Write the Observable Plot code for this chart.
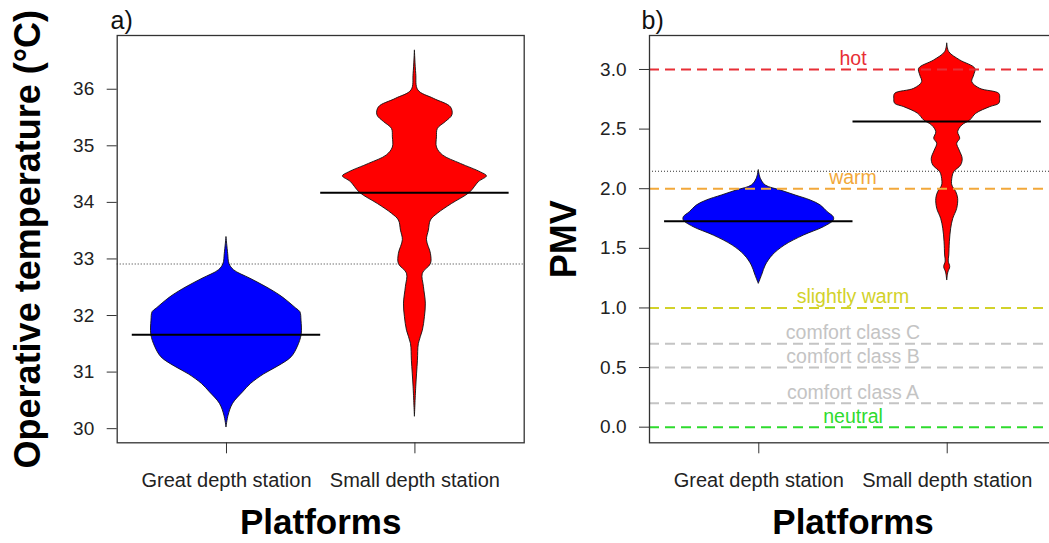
<!DOCTYPE html>
<html>
<head>
<meta charset="utf-8">
<script src="https://cdn.jsdelivr.net/npm/d3@7"></script>
<script src="https://cdn.jsdelivr.net/npm/@observablehq/plot@0.6"></script>
<style>
  html, body { margin: 0; padding: 0; background: #fff; overflow: hidden; }
  #root { position: relative; width: 1049px; height: 543px; overflow: hidden; }
  .panel { position: absolute; top: 0; width: 530px; height: 543px; }
  .panel svg { max-width: none !important; overflow: visible; }
</style>
</head>
<body>
<div id="root">
  <div class="panel" id="pa" style="left:0px"></div>
  <div class="panel" id="pb" style="left:530px"></div>
</div>
<script>
// ---------- data ----------
const platforms = ["Great depth station", "Small depth station"];

const tempTicks = [30, 31, 32, 33, 34, 35, 36];
const pmvTicks = [0, 0.5, 1, 1.5, 2, 2.5, 3];

const tempMeans = [31.66, 34.17];
const tempOverall = 32.91;
const pmvMeans = [1.727, 2.564];
const pmvOverall = 2.147;

// bean outlines: value levels and half-widths (density, in category units)
const gdTempValues = [33.38, 33.09, 32.91, 32.80, 32.65, 32.50, 32.35, 32.24, 32.12, 32.06, 31.91, 31.66, 31.45, 31.26, 31.10, 30.96, 30.79, 30.65, 30.44, 30.23, 30.02];
const gdTempWidths = [0, .009, .016, .040, .127, .212, .286, .329, .371, .392, .398, .399, .379, .345, .275, .200, .130, .090, .035, .011, 0];

const sdTempValues = [36.68, 36.27, 35.98, 35.83, 35.68, 35.54, 35.42, 35.30, 35.15, 34.97, 34.83, 34.68, 34.53, 34.46, 34.36, 34.17, 33.97, 33.80, 33.68, 33.50, 33.33, 33.09, 32.91, 32.74, 32.50, 32.21, 31.97, 31.73, 31.50, 31.20, 30.73, 30.21];
const sdTempWidths = [0, .007, .018, .101, .191, .199, .164, .122, .117, .117, .149, .244, .350, .382, .340, .292, .196, .122, .085, .074, .064, .085, .085, .042, .048, .058, .053, .042, .021, .016, .007, 0];

const gdPmvValues = [2.153, 2.083, 2.027, 1.985, 1.943, 1.901, 1.859, 1.803, 1.761, 1.733, 1.677, 1.607, 1.523, 1.440, 1.356, 1.280, 1.202];
const gdPmvWidths = [0, .011, .037, .117, .196, .276, .329, .366, .398, .398, .345, .239, .138, .074, .037, .019, 0];

const sdPmvValues = [3.216, 3.145, 3.076, 3.006, 2.950, 2.893, 2.838, 2.796, 2.754, 2.712, 2.684, 2.628, 2.572, 2.530, 2.474, 2.419, 2.377, 2.320, 2.251, 2.195, 2.138, 2.083, 2.027, 1.971, 1.915, 1.831, 1.747, 1.664, 1.551, 1.440, 1.389, 1.342, 1.297, 1.230];
const sdPmvWidths = [0, .011, .069, .149, .143, .133, .175, .276, .281, .276, .228, .154, .122, .080, .058, .069, .053, .066, .082, .074, .037, .027, .027, .048, .058, .053, .032, .021, .014, .011, .008, .016, .006, 0];

// PMV thermal sensation levels
const levelValues = [3, 2, 1, 0.7, 0.5, 0.2, 0];
const levelLabels = ["hot", "warm", "slightly warm", "comfort class C", "comfort class B", "comfort class A", "neutral"];
const levelColors = ["#E82E36", "#F2A83A", "#D2D22A", "#C4C4C4", "#C4C4C4", "#C4C4C4", "#2EDB2E"];

const beanColors = ["#0000FF", "#FF0000"];

// ---------- helpers ----------
const FONT = "'Liberation Sans', Arial, Helvetica, sans-serif";
const xDomain = [0.42, 2.58];
const xCenter = (xDomain[0] + xDomain[1]) / 2;

function bean(values, widths, pos, fill) {
  const rows = values.map((v, i) => ({y: v, x1: pos - widths[i], x2: pos + widths[i]}));
  return Plot.areaX(rows, {y: "y", x1: "x1", x2: "x2", fill, stroke: "#111", strokeWidth: 0.9, curve: "catmull-rom"});
}

function panel({yDomain, yTicks, yFormat, yTitle, yTitleDx, tag, tagDx, beans, means, overall, extra, marginLeft, marginRight}) {
  const meanRows = means.map((m, i) => ({y: m, x1: i + 1 - 0.5, x2: i + 1 + 0.5}));
  return Plot.plot({
    width: 530,
    height: 543,
    marginTop: 35,
    marginBottom: 100.7,
    marginLeft,
    marginRight,
    style: {fontFamily: FONT, fontSize: "19px", color: "#222", background: "transparent", overflow: "visible"},
    x: {type: "linear", domain: xDomain},
    y: {domain: yDomain},
    color: {type: "identity"},
    marks: [
      Plot.ruleY([overall], {stroke: "#333", strokeWidth: 1.1, strokeDasharray: "1,2"}),
      ...beans,
      ...extra,
      Plot.ruleY(meanRows, {y: "y", x1: "x1", x2: "x2", stroke: "#000", strokeWidth: 2}),
      Plot.frame({stroke: "#333", strokeWidth: 1.3}),
      Plot.axisY({ticks: yTicks, tickFormat: yFormat, tickSize: 10, tickPadding: 13, label: null, fontSize: 19, stroke: "#333"}),
      Plot.axisX({ticks: [1, 2], tickFormat: d => platforms[Math.round(d) - 1], tickSize: 11, tickPadding: 19, label: null, fontSize: 20, stroke: "#333"}),
      Plot.text(["Platforms"], {text: d => d, frameAnchor: "bottom", dy: 79.7, fontSize: 35, fontWeight: "bold", fill: "#000", lineAnchor: "middle"}),
      Plot.text([yTitle], {text: d => d, frameAnchor: "left", rotate: -90, dx: yTitleDx, fontSize: 36, fontWeight: "bold", fill: "#000", lineAnchor: "middle", textAnchor: "middle"}),
      Plot.text([tag], {text: d => d, frameAnchor: "top-left", textAnchor: "start", dx: tagDx, dy: -14.5, fontSize: 25, fill: "#111", lineAnchor: "middle"})
    ]
  });
}

// ---------- panel a ----------
const plotA = panel({
  yDomain: [29.75, 36.95],
  yTicks: tempTicks,
  yFormat: d => String(d),
  yTitle: "Operative temperature (°C)",
  yTitleDx: -89,
  tag: "a)",
  tagDx: -6.7,
  beans: [
    bean(gdTempValues, gdTempWidths, 1, beanColors[0]),
    bean(sdTempValues, sdTempWidths, 2, beanColors[1])
  ],
  means: tempMeans,
  overall: tempOverall,
  extra: [],
  marginLeft: 116.7,
  marginRight: 6.3
});
document.getElementById("pa").appendChild(plotA);

// ---------- panel b ----------
const levels = levelValues.map((v, i) => ({v, label: levelLabels[i], color: levelColors[i]}));
const plotB = panel({
  yDomain: [-0.131, 3.285],
  yTicks: pmvTicks,
  yFormat: d => d.toFixed(1),
  yTitle: "PMV",
  yTitleDx: -85.2,
  tag: "b)",
  tagDx: -8,
  beans: [
    bean(gdPmvValues, gdPmvWidths, 1, beanColors[0]),
    bean(sdPmvValues, sdPmvWidths, 2, beanColors[1])
  ],
  means: pmvMeans,
  overall: pmvOverall,
  extra: [
    Plot.ruleY(levels, {y: "v", stroke: "color", strokeWidth: 2, strokeDasharray: "10,6"}),
    Plot.text(levels, {x: () => xCenter, y: d => d.v + 0.09, text: "label", fill: "color", fontSize: 19.5, lineAnchor: "middle", textAnchor: "middle"})
  ],
  marginLeft: 119,
  marginRight: 4
});
document.getElementById("pb").appendChild(plotB);
</script>
</body>
</html>
